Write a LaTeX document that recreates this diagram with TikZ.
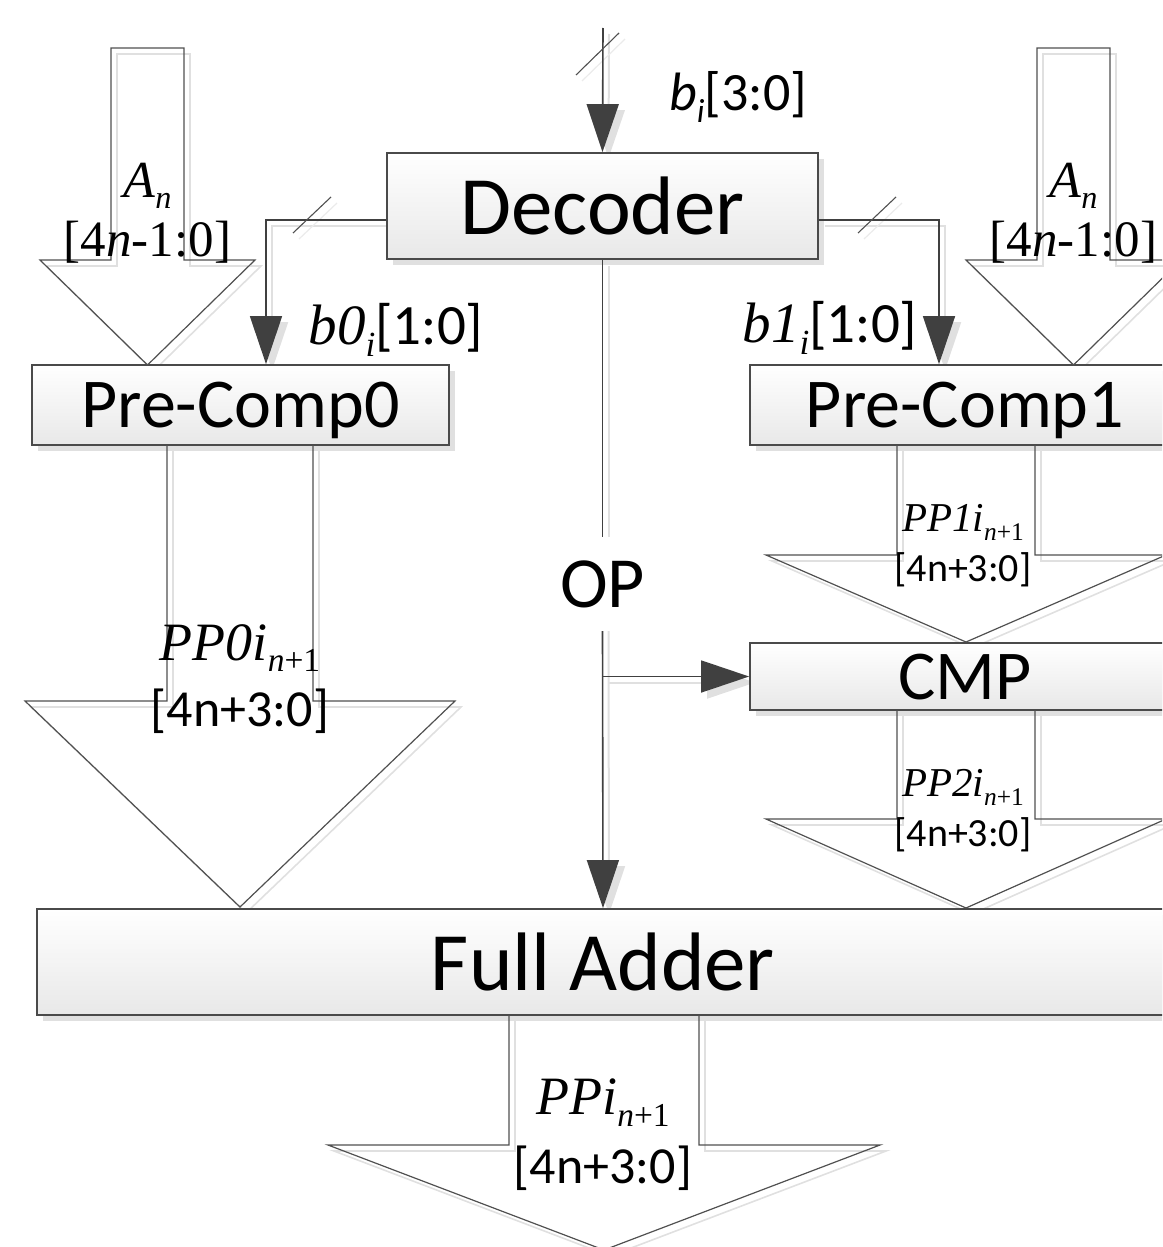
\documentclass[tikz,border=0pt]{standalone}
\usepackage{fontspec}
\setmainfont{Carlito}
\newfontfamily\tms{Liberation Serif}
\usepackage{graphicx}
\usetikzlibrary{arrows.meta,shadows,calc}
\pgfdeclarelayer{bg}
\pgfsetlayers{bg,main}
\definecolor{lc}{HTML}{404040}
\definecolor{bc}{HTML}{4A4A4A}
\definecolor{ac}{HTML}{505050}
\definecolor{sh}{HTML}{E0E0E0}
\definecolor{shl}{HTML}{EBEBEB}
\newcommand\fs[1]{\fontsize{#1}{#1}\selectfont}
\newcommand\dn[1]{\raisebox{-0.22em}{\scalebox{0.62}{#1}}}
% options, cx, half stem, top, shoulder, half head, tip
\newcommand\bigarr[7]{\draw[#1] (#2-#3,#4) -- (#2-#3,#5) -- (#2-#6,#5) -- (#2,#7) -- (#2+#6,#5) -- (#2+#3,#5) -- (#2+#3,#4);}
\newcommand\bigarrc[7]{\draw[#1] (#2-#3,#4) -- (#2-#3,#5) -- (#2-#6,#5) -- (#2,#7) -- (#2+#6,#5) -- (#2+#3,#5) -- (#2+#3,#4) -- cycle;}
\begin{document}
\begin{tikzpicture}[x=1pt,y=-1pt,
  ln/.style={draw=lc, line width=1.6pt},
  shd/.style={draw=sh, line width=2pt},
  tip/.style={-{Triangle[width=32pt,length=48pt]}},
  slash/.style={draw=ac, line width=1.1pt},
  box/.style={draw=bc, line width=1.8pt, top color=white, bottom color=black!9,
    inner sep=0pt, text depth=0pt, anchor=center,
    drop shadow={shadow xshift=6pt, shadow yshift=-6pt, fill=black!12, opacity=1}},
  barrow/.style={draw=ac, line width=1.2pt},
  bshd/.style={draw=sh, line width=1.6pt, xshift=6pt, yshift=-6pt},
  lbl/.style={inner sep=0pt, anchor=center, text=black}]

\useasboundingbox (0,0) rectangle (1162,1247);
\clip (0,0) rectangle (1162,1247);

% ---------- boxes ----------
\node[box, minimum width=431pt, minimum height=106pt, font=\fs{83}] (dec) at (602.5,206) {Decoder};
\node[box, minimum width=417pt, minimum height=80pt, font=\fs{70}] (pc0) at (240.5,405) {Pre-Comp0};
\node[box, minimum width=430pt, minimum height=80pt, font=\fs{70}] (pc1) at (965,405) {Pre-Comp1};
\node[box, minimum width=430pt, minimum height=67pt, font=\fs{70}] (cmp) at (965,676.5) {CMP};
\node[box, minimum width=1132pt, minimum height=106pt, font=\fs{83}] (fa) at (603,962) {Full Adder};

% ---------- OP label (splits the line) ----------
\node[lbl, minimum height=94pt, font=\fs{72}] (op) at (602.5,584) {OP};
\coordinate (bin) at (603,28);

% ---------- shadows ----------
\begin{pgfonlayer}{bg}
  \bigarrc{bshd}{147.5}{36.5}{48}{260}{107.5}{365}
  \bigarrc{bshd}{1073.5}{36.5}{48}{260}{107.5}{365}
  \bigarr{bshd}{240}{73}{445}{701}{215}{907}
  \bigarr{bshd}{966}{69}{445}{555}{200}{642}
  \bigarr{bshd}{966}{69}{710}{819}{200}{908}
  \bigarr{bshd}{604}{95}{1015}{1145}{276}{1250}
  \draw[shd,tip] ([xshift=6pt,yshift=-6pt]bin) -- ([xshift=6pt,yshift=-6pt]dec.north);
  \draw[shd,tip] ([xshift=6pt,yshift=-20pt]dec.west) -| ([xshift=31.5pt,yshift=-6pt]pc0.north);
  \draw[shd,tip] ([xshift=6pt,yshift=-20pt]dec.east) -| ([xshift=-20pt,yshift=-6pt]pc1.north);
  \draw[shd] ([xshift=6pt,yshift=-6pt]dec.south) -- ([xshift=6pt]op.north);
  \draw[shd,tip] ([xshift=6pt]op.south) -- ([xshift=6pt,yshift=-6pt]fa.north);
  \draw[shd,tip] ([xshift=6pt,yshift=-6pt]op.south |- cmp.west) -- ([xshift=6pt,yshift=-6pt]cmp.west);
  \draw[draw=shl, line width=1.2pt] (582,81) -- (625,39);
  \draw[draw=shl, line width=1.2pt] (299,239) -- (337,203);
  \draw[draw=shl, line width=1.2pt] (864,239) -- (902,203);
\end{pgfonlayer}

% ---------- wide bus arrows ----------
\bigarrc{barrow}{147.5}{36.5}{48}{260}{107.5}{365}
\bigarrc{barrow}{1073.5}{36.5}{48}{260}{107.5}{365}
\bigarr{barrow}{240}{73}{445}{701}{215}{907}
\bigarr{barrow}{966}{69}{445}{555}{200}{642}
\bigarr{barrow}{966}{69}{710}{819}{200}{908}
\bigarr{barrow}{604}{95}{1015}{1145}{276}{1250}

% ---------- connectors ----------
\draw[ln,tip] (bin) -- (dec.north);
\draw[ln,tip] ([yshift=-14pt]dec.west) -| ([xshift=25.5pt]pc0.north);
\draw[ln,tip] ([yshift=-14pt]dec.east) -| ([xshift=-26pt]pc1.north);
\draw[ln] (dec.south) -- (op.north);
\draw[ln,tip] (op.south) -- (fa.north);
\draw[ln,tip] (op.south |- cmp.west) -- (cmp.west);

% bus slashes
\draw[slash] (576,75) -- (619,33);
\draw[slash] (293,233) -- (331,197);
\draw[slash] (858,233) -- (896,197);

% ---------- labels ----------
\node[lbl, font=\fs{52}\tms] (anl) at (147.5,186) {\itshape A\dn{n}};
\node[lbl, font=\fs{51}\tms] (anlr) at (147.5,242) {[4\textit{n}-1:0]};
\node[lbl, font=\fs{52}\tms] (anr) at (1073.5,186) {\itshape A\dn{n}};
\node[lbl, font=\fs{51}\tms] (anrr) at (1073.5,242) {[4\textit{n}-1:0]};

\node[lbl, font=\fs{54}] (bl) at (738,97) {\textit{b}\dn{\textit{i}}[3:0]};
\node[lbl, font=\fs{57}] (b0l) at (396,330) {{\tms\itshape b0\dn{i}}[1:0]};
\node[lbl, font=\fs{57}] (b1l) at (830,328) {{\tms\itshape b1\dn{i}}[1:0]};

\node[lbl, font=\fs{54}\tms] (pp0) at (240,648) {\itshape PP0i\dn{n\upshape+1}};
\node[lbl, font=\fs{52}] (pp0r) at (240,711) {[4n+3:0]};
\node[lbl, font=\fs{41}\tms] (pp1) at (963,522) {\itshape PP1i\dn{n\upshape+1}};
\node[lbl, font=\fs{40}] (pp1r) at (963,570) {[4n+3:0]};
\node[lbl, font=\fs{41}\tms] (pp2) at (963,787) {\itshape PP2i\dn{n\upshape+1}};
\node[lbl, font=\fs{40}] (pp2r) at (963,835) {[4n+3:0]};
\node[lbl, font=\fs{54}\tms] (ppo) at (603,1103) {\itshape PPi\dn{n\upshape+1}};
\node[lbl, font=\fs{52}] (ppor) at (603,1168) {[4n+3:0]};
\end{tikzpicture}
\end{document}
